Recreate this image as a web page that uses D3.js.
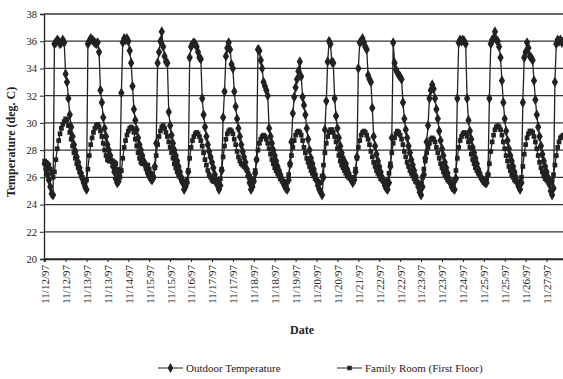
<!DOCTYPE html>
<html>
<head>
<meta charset="utf-8">
<script src="https://cdn.jsdelivr.net/npm/d3@7"></script>
<style>
  body { margin: 0; background: #fff; }
  text { font-family: "Liberation Serif", "Times New Roman", serif; fill: #222; }
</style>
</head>
<body>
<svg id="chart" width="563" height="379"></svg>
<script>
// hourly readings, starting 11/12/97 00:00 (one row per day)
const outdoorTemp = [
  27.0, 26.6, 26.2, 25.8, 25.3, 24.8, 24.7, 35.8, 35.9, 36.1, 36.0, 35.8, 35.9, 36.1, 35.9, 33.6, 33.0, 31.8, 30.6, 29.7, 29.0, 28.4, 27.9, 27.5,
  27.1, 26.7, 26.3, 25.9, 25.6, 25.3, 25.1, 35.8, 36.0, 36.2, 36.1, 36.0, 35.9, 35.8, 35.9, 35.2, 32.4, 31.5, 30.4, 29.6, 29.0, 28.4, 28.0, 27.6,
  27.2, 26.8, 26.4, 25.9, 25.6, 25.7, 26.4, 32.2, 35.9, 36.2, 36.1, 36.2, 36.0, 35.3, 34.4, 32.7, 31.0, 30.2, 29.5, 28.9, 28.4, 28.0, 27.6, 27.2,
  26.9, 26.6, 26.3, 26.1, 25.9, 25.8, 26.0, 26.8, 28.5, 34.4, 35.2, 36.0, 36.7, 35.6, 34.9, 34.5, 34.4, 30.8, 29.8, 29.1, 28.5, 28.0, 27.6, 27.2,
  26.8, 26.4, 26.0, 25.6, 25.1, 25.3, 25.6, 26.4, 34.8, 35.6, 35.8, 35.9, 35.8, 35.6, 35.2, 34.8, 34.7, 31.8, 30.6, 29.7, 29.0, 28.4, 27.9, 27.5,
  27.1, 26.7, 26.2, 25.8, 25.4, 25.1, 25.4, 26.5, 30.4, 32.3, 34.9, 35.5, 35.9, 35.4, 34.3, 34.0, 32.3, 31.2, 30.3, 29.6, 29.0, 28.4, 27.9, 27.5,
  27.1, 26.6, 26.1, 25.6, 25.1, 25.3, 25.7, 26.3, 27.3, 35.4, 35.3, 34.6, 34.0, 33.0, 32.7, 32.4, 32.0, 29.6, 29.0, 28.5, 28.0, 27.6, 27.2, 26.8,
  26.5, 26.2, 25.9, 25.6, 25.4, 25.2, 25.1, 25.8, 27.0, 28.6, 30.7, 31.9, 32.6, 33.2, 33.8, 34.5, 33.4, 31.9, 31.3, 30.6, 29.6, 28.8, 28.0, 27.4,
  27.0, 26.6, 26.2, 25.8, 25.4, 25.1, 24.9, 24.7, 26.0, 29.5, 31.6, 34.5, 36.0, 35.8, 34.5, 34.4, 31.8, 30.5, 29.6, 28.9, 28.3, 27.8, 27.4, 27.0,
  27.0, 26.6, 26.3, 26.0, 25.8, 25.6, 25.8, 26.4, 27.5, 34.0, 35.9, 36.0, 36.2, 35.9, 35.6, 35.4, 33.5, 33.2, 33.0, 31.1, 29.0, 28.3, 27.7, 27.2,
  26.8, 26.4, 26.0, 25.7, 25.4, 25.2, 25.1, 25.6, 26.8, 28.9, 35.9, 34.4, 33.9, 33.7, 33.5, 33.4, 33.2, 31.5, 30.3, 29.5, 28.9, 28.3, 27.8, 27.3,
  26.9, 26.5, 26.1, 25.7, 25.3, 24.9, 24.7, 25.3, 26.2, 27.4, 28.6, 29.8, 31.8, 32.4, 32.8, 32.5, 31.8, 31.0, 30.3, 29.4, 28.7, 28.1, 27.6, 27.1,
  26.7, 26.3, 25.9, 25.6, 25.3, 25.2, 25.1, 25.9, 31.8, 35.9, 36.1, 36.0, 36.1, 36.0, 35.8, 31.8, 30.2, 29.4, 28.8, 28.2, 27.8, 27.4, 27.0, 26.6,
  26.3, 26.0, 25.8, 25.7, 25.6, 25.6, 26.2, 31.8, 35.8, 36.1, 36.2, 36.7, 36.1, 36.0, 35.6, 34.8, 33.1, 31.5, 30.3, 29.4, 28.7, 28.1, 27.6, 27.2,
  26.8, 26.4, 26.0, 25.6, 25.3, 25.1, 25.6, 31.5, 34.8, 35.2, 35.9, 35.5, 34.9, 34.8, 34.6, 33.1, 31.7, 30.6, 29.7, 29.0, 28.3, 27.7, 27.2, 26.8,
  26.4, 26.0, 25.5, 25.0, 24.7, 25.2, 33.0, 35.8, 36.1, 36.0, 36.1, 35.9, 36.0
];

const familyRoom = [
  27.2, 27.1, 27.0, 26.9, 26.6, 26.3, 26.0, 26.4, 27.3, 28.1, 28.7, 29.2, 29.6, 29.9, 30.1, 30.3, 30.2, 29.8, 29.3, 28.8, 28.3, 27.8, 27.4, 27.0,
  26.7, 26.4, 26.2, 26.0, 25.8, 25.7, 25.8, 26.6, 27.6, 28.4, 28.9, 29.3, 29.6, 29.8, 29.9, 29.7, 29.4, 29.0, 28.5, 28.0, 27.6, 27.3, 27.2, 27.2,
  27.2, 27.2, 27.1, 27.0, 26.6, 26.2, 26.0, 26.5, 27.4, 28.2, 28.7, 29.1, 29.4, 29.6, 29.7, 29.6, 29.3, 28.8, 28.3, 27.8, 27.4, 27.1, 27.0, 27.0,
  27.0, 26.9, 26.9, 26.6, 26.3, 26.0, 26.0, 26.7, 27.6, 28.4, 29.0, 29.4, 29.7, 29.8, 29.6, 29.3, 29.0, 28.6, 28.2, 27.8, 27.4, 27.0, 26.7, 26.4,
  26.2, 26.0, 25.8, 25.7, 25.6, 25.6, 25.8, 26.5, 27.4, 28.2, 28.7, 29.0, 29.2, 29.3, 29.2, 29.0, 28.7, 28.3, 27.8, 27.3, 26.9, 26.5, 26.2, 26.0,
  25.8, 25.7, 25.7, 25.6, 25.6, 25.7, 25.9, 26.6, 27.5, 28.3, 28.8, 29.2, 29.4, 29.5, 29.4, 29.2, 28.8, 28.4, 27.9, 27.5, 27.2, 27.0, 26.9, 26.8,
  26.7, 26.5, 26.3, 26.1, 25.9, 25.8, 25.9, 26.5, 27.3, 28.0, 28.5, 28.8, 29.0, 29.1, 29.0, 28.8, 28.5, 28.1, 27.7, 27.3, 27.0, 26.7, 26.5, 26.3,
  26.1, 25.9, 25.8, 25.7, 25.6, 25.6, 25.7, 26.2, 26.9, 27.6, 28.2, 28.7, 29.1, 29.3, 29.4, 29.3, 29.1, 28.7, 28.2, 27.8, 27.4, 27.1, 26.8, 26.5,
  26.3, 26.1, 25.9, 25.8, 25.7, 25.6, 25.6, 26.1, 26.9, 27.8, 28.5, 29.0, 29.3, 29.5, 29.5, 29.3, 29.0, 28.6, 28.1, 27.6, 27.2, 26.9, 26.7, 26.5,
  26.3, 26.1, 26.0, 25.9, 25.8, 25.8, 26.0, 26.6, 27.4, 28.2, 28.7, 29.1, 29.3, 29.4, 29.3, 29.1, 28.8, 28.4, 27.9, 27.5, 27.1, 26.8, 26.5, 26.3,
  26.1, 25.9, 25.8, 25.7, 25.6, 25.6, 25.8, 26.3, 27.0, 27.8, 28.5, 28.9, 29.2, 29.4, 29.3, 29.1, 28.8, 28.4, 27.9, 27.5, 27.1, 26.8, 26.5, 26.3,
  26.1, 25.9, 25.7, 25.6, 25.5, 25.5, 25.6, 26.0, 26.6, 27.2, 27.8, 28.2, 28.5, 28.8, 28.9, 28.8, 28.6, 28.2, 27.8, 27.4, 27.0, 26.7, 26.4, 26.2,
  26.0, 25.8, 25.7, 25.6, 25.5, 25.6, 25.8, 26.5, 27.4, 28.2, 28.7, 29.0, 29.2, 29.3, 29.2, 29.0, 28.6, 28.2, 27.7, 27.3, 27.0, 26.7, 26.5, 26.3,
  26.2, 26.0, 25.9, 25.8, 25.8, 25.9, 26.2, 27.0, 27.9, 28.6, 29.1, 29.5, 29.7, 29.8, 29.7, 29.5, 29.1, 28.6, 28.1, 27.6, 27.2, 26.8, 26.5, 26.2,
  26.0, 25.8, 25.7, 25.6, 25.6, 25.7, 26.0, 26.8, 27.7, 28.4, 28.9, 29.2, 29.4, 29.4, 29.3, 29.0, 28.6, 28.1, 27.6, 27.1, 26.7, 26.4, 26.1, 25.9,
  25.8, 25.7, 25.6, 25.6, 25.8, 26.2, 26.9, 27.6, 28.2, 28.6, 28.9, 29.0, 29.1
];

// category labels shown every 15 readings
const tickLabels = [
  "11/12/97", "11/12/97", "11/13/97", "11/13/97", "11/14/97", "11/15/97", "11/15/97",
  "11/16/97", "11/17/97", "11/17/97", "11/18/97", "11/18/97", "11/19/97", "11/20/97",
  "11/20/97", "11/21/97", "11/22/97", "11/22/97", "11/23/97", "11/23/97", "11/24/97",
  "11/25/97", "11/25/97", "11/26/97", "11/27/97"
];
const yTicks = [20, 22, 24, 26, 28, 30, 32, 34, 36, 38];
const seriesNames = ["Outdoor Temperature", "Family Room (First Floor)"];

const svg = d3.select('#chart');
const plotLeft = 44, plotTop = 14, plotBottom = 259;
const hours = 384;

const x = d3.scaleLinear()
  .domain([-0.5, hours - 0.5])
  .range([plotLeft, plotLeft + hours * 1.394]);

const y = d3.scaleLinear()
  .domain([20, 38])
  .range([plotBottom, plotTop]);

// horizontal grid + y axis
const yAxis = svg.append('g')
  .attr('transform', 'translate(' + plotLeft + ',0)')
  .call(d3.axisLeft(y).tickValues(yTicks).tickSize(4).tickPadding(3));
yAxis.select('.domain').attr('stroke', '#222').attr('stroke-width', 1.3);
yAxis.selectAll('.tick line').attr('stroke', '#222');
yAxis.selectAll('text').style('font-size', '10.5px').attr('fill', '#222');

svg.append('g')
  .selectAll('line')
  .data(yTicks)
  .enter()
  .append('line')
  .attr('x1', plotLeft)
  .attr('x2', 563)
  .attr('y1', d => y(d))
  .attr('y2', d => y(d))
  .attr('stroke', '#333')
  .attr('stroke-width', d => d == 38 || d == 20 ? 1.7 : 1.2);

// x axis with rotated date labels
const xAxis = svg.append('g')
  .attr('transform', 'translate(0,' + plotBottom + ')')
  .call(d3.axisBottom(x)
    .tickValues(d3.range(0, tickLabels.length * 15, 15))
    .tickFormat((d, i) => tickLabels[i])
    .tickSize(3));
xAxis.select('.domain').attr('stroke', '#222').attr('stroke-width', 1.5);
xAxis.selectAll('.tick line').attr('stroke', '#222');
xAxis.selectAll('text')
  .style('font-size', '11px')
  .attr('fill', '#222')
  .attr('text-anchor', 'end')
  .attr('transform', 'rotate(-90)')
  .attr('x', -6)
  .attr('y', 0)
  .attr('dy', '0.35em');

// axis titles
svg.append('text')
  .attr('transform', 'translate(15,142) rotate(-90)')
  .attr('text-anchor', 'middle')
  .style('font-size', '12px')
  .style('font-weight', 'bold')
  .text('Temperature (deg. C)');

svg.append('text')
  .attr('x', 302)
  .attr('y', 334)
  .attr('text-anchor', 'middle')
  .style('font-size', '12px')
  .style('font-weight', 'bold')
  .text('Date');

// series
const line = d3.line()
  .x((d, i) => x(i))
  .y(d => y(d));

const diamond = d3.symbol().type(d3.symbolDiamond).size(34);
const square = d3.symbol().type(d3.symbolSquare).size(22);

svg.append('path')
  .datum(familyRoom)
  .attr('d', line)
  .attr('fill', 'none')
  .attr('stroke', '#222')
  .attr('stroke-width', 1.3);

svg.append('g')
  .selectAll('path')
  .data(familyRoom)
  .enter()
  .append('path')
  .attr('d', square)
  .attr('transform', (d, i) => 'translate(' + x(i) + ',' + y(d) + ')')
  .attr('fill', '#222');

svg.append('path')
  .datum(outdoorTemp)
  .attr('d', line)
  .attr('fill', 'none')
  .attr('stroke', '#222')
  .attr('stroke-width', 1.3);

svg.append('g')
  .selectAll('path')
  .data(outdoorTemp)
  .enter()
  .append('path')
  .attr('d', diamond)
  .attr('transform', (d, i) => 'translate(' + x(i) + ',' + y(d) + ')')
  .attr('fill', '#222');

// legend
const legend = svg.append('g').attr('transform', 'translate(0,368)');
const legendX = [158, 337];
seriesNames.forEach((name, k) => {
  const g = legend.append('g').attr('transform', 'translate(' + legendX[k] + ',0)');
  g.append('line')
    .attr('x1', 0).attr('x2', 25)
    .attr('y1', 0).attr('y2', 0)
    .attr('stroke', '#222');
  g.append('path')
    .attr('d', d3.symbol().type(k == 0 ? d3.symbolDiamond : d3.symbolSquare).size(k == 0 ? 28 : 20))
    .attr('transform', 'translate(12.5,0)')
    .attr('fill', '#222');
  g.append('text')
    .attr('x', 28)
    .attr('dy', '0.35em')
    .style('font-size', '11px')
    .text(name);
});
</script>
</body>
</html>
